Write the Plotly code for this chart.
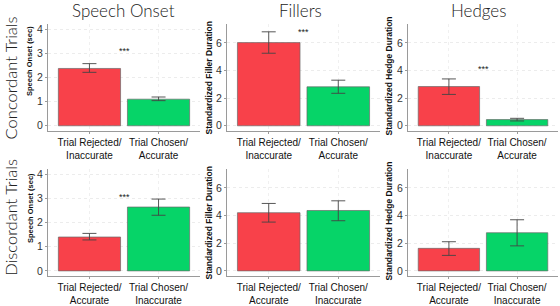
import plotly.graph_objects as go

# ---- data ----
cats_conc = ["Trial Rejected/<br>Inaccurate", "Trial Chosen/<br>Accurate"]
cats_disc = ["Trial Rejected/<br>Accurate", "Trial Chosen/<br>Inaccurate"]

onset_conc = [2.37, 1.10]
onset_conc_lo = [2.21, 1.04]
onset_conc_hi = [2.57, 1.19]

filler_conc = [6.02, 2.82]
filler_conc_lo = [5.25, 2.35]
filler_conc_hi = [6.80, 3.30]

hedge_conc = [2.84, 0.45]
hedge_conc_lo = [2.27, 0.35]
hedge_conc_hi = [3.39, 0.54]

onset_disc = [1.40, 2.64]
onset_disc_lo = [1.28, 2.30]
onset_disc_hi = [1.55, 2.97]

filler_disc = [4.21, 4.37]
filler_disc_lo = [3.53, 3.63]
filler_disc_hi = [4.88, 5.07]

hedge_disc = [1.63, 2.76]
hedge_disc_lo = [1.12, 1.81]
hedge_disc_hi = [2.11, 3.70]

col_titles = ["Speech Onset", "Fillers", "Hedges"]
row_titles = ["Concordant Trials", "Discordant Trials"]
y_titles = ["Speech Onset (sec)", "Standardized Filler Duration", "Standardized Hedge Duration"]
onset_ticks = [0, 1, 2, 3, 4]
dur_ticks = [0, 2, 4, 6]
sig_label = "***"
# significance marker heights (data units) per panel: conc onset, conc filler, conc hedge, disc onset
sig_y = {(0, 0): 3.08, (0, 1): 6.78, (0, 2): 4.12, (1, 0): 3.06}

bar_colors = ["#F8414A", "#06D468"]

W, H = 560, 306
col_px = [(48, 200), (227, 380), (408, 558)]
row_px = [(24, 134), (174, 284)]

panels = [
    [(cats_conc, onset_conc, onset_conc_lo, onset_conc_hi),
     (cats_conc, filler_conc, filler_conc_lo, filler_conc_hi),
     (cats_conc, hedge_conc, hedge_conc_lo, hedge_conc_hi)],
    [(cats_disc, onset_disc, onset_disc_lo, onset_disc_hi),
     (cats_disc, filler_disc, filler_disc_lo, filler_disc_hi),
     (cats_disc, hedge_disc, hedge_disc_lo, hedge_disc_hi)],
]

fig = go.Figure()
layout = {}
annotations = []
tick_font = dict(family="Liberation Sans, Arial", size=10, color="#111")
ytick_font = dict(family="Liberation Sans, Arial", size=10.5, color="#333")

idx = 0
for r in range(2):
    for c in range(3):
        idx += 1
        cats, vals, lo, hi = panels[r][c]
        xa = "x" if idx == 1 else f"x{idx}"
        ya = "y" if idx == 1 else f"y{idx}"
        fig.add_trace(go.Bar(
            x=cats, y=vals, xaxis=xa, yaxis=ya,
            marker=dict(color=bar_colors, line=dict(color="#6a6a6a", width=0.7)),
            error_y=dict(type="data", symmetric=False,
                         array=[h - v for h, v in zip(hi, vals)],
                         arrayminus=[v - l for l, v in zip(lo, vals)],
                         color="#444", thickness=0.9, width=7),
            width=0.9, showlegend=False, hoverinfo="skip",
        ))
        x0, x1 = col_px[c]
        y0, y1 = row_px[r]
        if c == 0:
            yr = [-0.2, 4.2]
            tv = onset_ticks
        else:
            yr = [-0.35, 7.35]
            tv = dur_ticks
        key = "" if idx == 1 else str(idx)
        layout["xaxis" + key] = dict(
            domain=[x0 / W, x1 / W], anchor=ya, range=[-0.6, 1.6],
            showline=True, linecolor="#9a9a9a", linewidth=1,
            ticks="outside", ticklen=2, tickcolor="#9a9a9a",
            showgrid=True, gridcolor="#f0f0f0", griddash="dot", gridwidth=1,
            tickfont=tick_font, fixedrange=True, zeroline=False,
        )
        layout["yaxis" + key] = dict(
            domain=[1 - y1 / H, 1 - y0 / H], anchor=xa, range=yr,
            tickvals=tv, showline=True, linecolor="#9a9a9a", linewidth=1,
            ticks="outside", ticklen=2, tickcolor="#9a9a9a",
            showgrid=True, gridcolor="#ececec", griddash="dot", gridwidth=1,
            tickfont=ytick_font, zeroline=False, fixedrange=True,
        )
        if (r, c) in sig_y:
            annotations.append(dict(
                x=0.5, y=sig_y[(r, c)], xref=xa, yref=ya, text=sig_label,
                showarrow=False, font=dict(family="Liberation Sans, Arial", size=9, color="#222"),
                yanchor="middle",
            ))

# y-axis titles
ytitle_x = [30, 209, 389]
ytitle_y = [[62, 214], [80, 230], [78, 228]]
ytitle_size = [7.5, 8.5, 8.5]
for c in range(3):
    for r in range(2):
        annotations.append(dict(
            x=ytitle_x[c] / W, y=1 - ytitle_y[c][r] / H, xref="paper", yref="paper",
            text="<b>" + y_titles[c] + "</b>", textangle=-90, showarrow=False,
            font=dict(family="Liberation Sans, Arial", size=ytitle_size[c], color="#111"),
            xanchor="center", yanchor="middle",
        ))

# column titles
col_cx = [123, 300, 478]
for c in range(3):
    annotations.append(dict(
        x=col_cx[c] / W, y=1 - 10 / H, xref="paper", yref="paper",
        text=col_titles[c], showarrow=False,
        font=dict(family="Lato, Noto Sans", size=17, color="#222", weight=300),
        xanchor="center", yanchor="middle",
    ))

# row titles
row_cy = [80, 224]
for r in range(2):
    annotations.append(dict(
        x=11 / W, y=1 - row_cy[r] / H, xref="paper", yref="paper",
        text=row_titles[r], textangle=-90, showarrow=False,
        font=dict(family="Lato, Noto Sans", size=16.5, color="#222", weight=300),
        xanchor="center", yanchor="middle",
    ))

fig.update_layout(
    **layout,
    annotations=annotations,
    width=W, height=H,
    margin=dict(l=0, r=0, t=0, b=0),
    paper_bgcolor="white", plot_bgcolor="white",
    bargap=0.1,
)

fig.write_html("out.html")
